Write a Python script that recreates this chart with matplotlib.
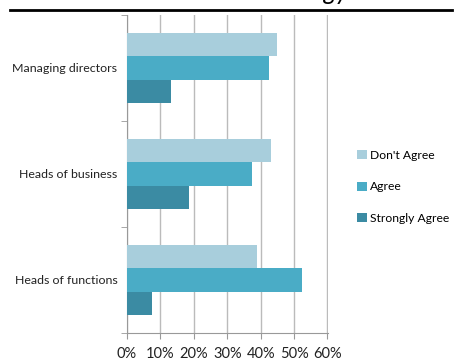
import matplotlib
matplotlib.use('Agg')
import matplotlib.pyplot as plt
import numpy as np

plt.rcParams['font.family'] = ['Lato', 'DejaVu Sans']

# data
groups = ['Heads of functions', 'Heads of business', 'Managing directors']
series = ["Don't Agree", 'Agree', 'Strongly Agree']
dont_agree = [38.9, 43.0, 45.0]
agree = [52.4, 37.3, 42.4]
strongly_agree = [7.5, 18.6, 13.3]
colors = ['#A8CEDC', '#4AACC6', '#3B8BA3']
xticks = [0, 10, 20, 30, 40, 50, 60]

W, H = 454, 361
fig = plt.figure(figsize=(W / 100, H / 100), dpi=100)
ax = fig.add_axes((127 / W, 1 - 333 / H, (328 - 127) / W, (333 - 15) / H))

y = np.arange(len(groups))
h = 0.222
for k, (vals, c) in enumerate(zip([dont_agree, agree, strongly_agree], colors)):
    ax.barh(y + (1 - k) * h, vals, height=h, color=c, label=series[k], zorder=3)

ax.set_xlim(0, 60.15)
ax.set_ylim(-0.5, 2.5)
ax.set_xticks(xticks)
ax.set_xticklabels([f'{t}%' for t in xticks], fontsize=10.5, color='#222222')
ax.set_yticks(y)
ax.set_yticklabels(groups, fontsize=8.9, color='#222222')
ax.tick_params(axis='y', length=0, pad=7)
ax.tick_params(axis='x', length=4, color='#999999', pad=6)
ax.set_yticks([-0.5, 0.5, 1.5, 2.5], minor=True)
ax.tick_params(axis='y', which='minor', length=4, color='#999999')
ax.grid(axis='x', color='#BBBBBB', linewidth=1, zorder=0)
for s in ['top', 'right']:
    ax.spines[s].set_visible(False)
for s in ['left', 'bottom']:
    ax.spines[s].set_color('#999999')

ax.legend(loc='center left', bbox_to_anchor=(357 / W, 1 - 187 / H),
          bbox_transform=fig.transFigure, frameon=False, fontsize=8.7,
          handlelength=0.8, handleheight=0.8, handletextpad=0.3,
          labelspacing=1.7, borderaxespad=0, borderpad=0)

# page header rule and clipped heading above it
fig.add_artist(plt.Line2D([10 / W, 452 / W], [1 - 10 / H, 1 - 10 / H],
                          color='black', linewidth=2))
fig.text(349 / W, 1.0, 'Strategy', ha='right', va='baseline',
         fontsize=18, style='italic')

fig.savefig('out.png', dpi=100)
